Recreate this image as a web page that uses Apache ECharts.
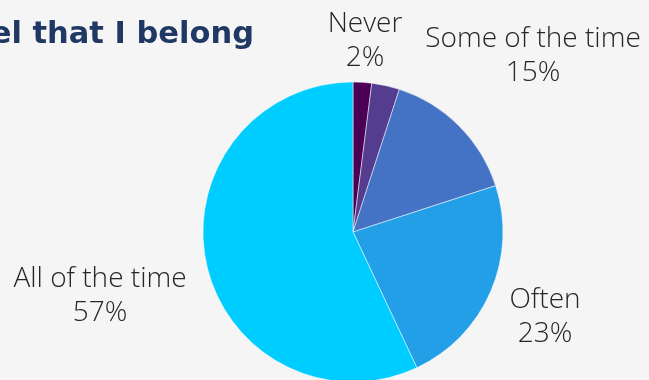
<!DOCTYPE html>
<html>
<head>
<meta charset="utf-8">
<script src="https://cdn.jsdelivr.net/npm/echarts@6/dist/echarts.min.js"></script>
<style>
  html, body { margin: 0; padding: 0; background: #f5f5f5; }
  #chart { width: 649px; height: 380px; }
</style>
</head>
<body>
<div id="chart"></div>
<script>
// Survey responses: "I feel that I belong"
const categories = ['Never', 'Rarely', 'Some of the time', 'Often', 'All of the time'];
const percents = [2, 3, 15, 23, 57];
const sliceColors = ['#4b0055', '#543d8e', '#4472c4', '#229fe7', '#00cdff'];
const showLabel = [true, false, true, true, true];

// Where each outside label block sits (centre of the two-line text)
const labelSpots = {
  'Never': [365, 41],
  'Some of the time': [533, 56],
  'Often': [545, 317],
  'All of the time': [100, 296]
};

const chart = echarts.init(document.getElementById('chart'), null, { renderer: 'canvas' });

chart.setOption({
  backgroundColor: '#f5f5f5',
  animation: false,
  title: {
    text: 'I feel that I belong',
    left: 249,
    top: 15,
    textAlign: 'right',
    textStyle: {
      fontFamily: 'DejaVu Sans',
      fontWeight: 'bold',
      fontSize: 30.5,
      color: '#1f3864'
    }
  },
  series: [{
    type: 'pie',
    center: [353, 232],
    radius: 150,
    startAngle: 90,
    clockwise: true,
    itemStyle: { borderColor: '#ffffff', borderWidth: 0.5 },
    label: {
      show: true,
      position: 'outside',
      formatter: p => p.name + '\n' + p.value + '%',
      fontFamily: 'Open Sans',
      fontWeight: 300,
      fontSize: 28,
      lineHeight: 34,
      color: '#262626',
      align: 'center',
      verticalAlign: 'middle',
      overflow: 'none',
      width: 300
    },
    labelLine: { show: false },
    labelLayout: params => {
      const spot = labelSpots[categories[params.dataIndex]];
      if (!spot) return {};
      return { x: spot[0], y: spot[1], align: 'center', verticalAlign: 'middle' };
    },
    data: categories.map((name, i) => ({
      name: name,
      value: percents[i],
      itemStyle: { color: sliceColors[i] },
      label: { show: showLabel[i] }
    }))
  }]
});
</script>
</body>
</html>
